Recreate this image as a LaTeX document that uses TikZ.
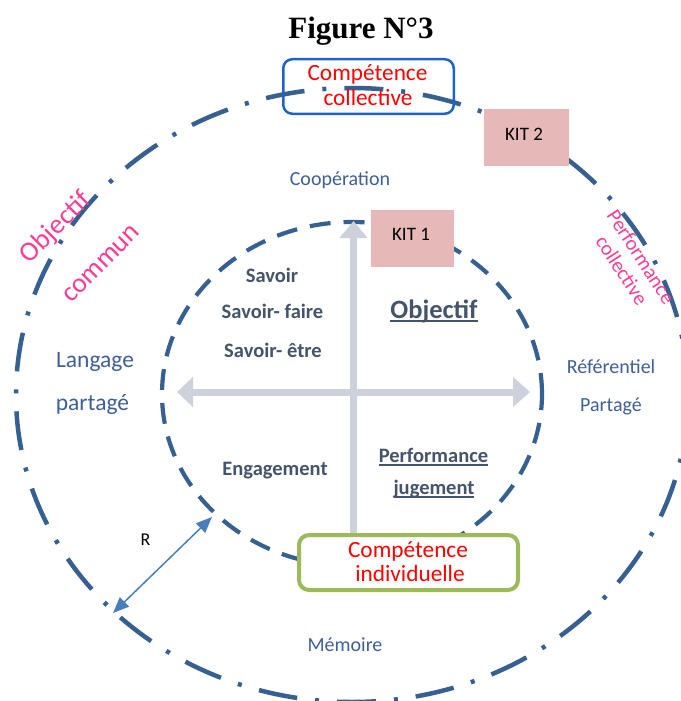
\documentclass[tikz,border=0pt]{standalone}
\usepackage{fontspec}
\setmainfont{Carlito}
\newfontfamily\titlefont{Liberation Serif}
\usetikzlibrary{arrows.meta}
\definecolor{circblue}{RGB}{55,96,146}
\definecolor{txtblue}{RGB}{62,96,150}
\definecolor{darktxt}{RGB}{68,84,106}
\definecolor{pinktxt}{RGB}{255,60,145}
\definecolor{redtxt}{RGB}{255,0,0}
\definecolor{kitfill}{RGB}{230,185,184}
\definecolor{axisgray}{RGB}{205,209,220}
\definecolor{boxgreen}{RGB}{155,187,89}
\definecolor{boxblue}{RGB}{30,100,200}
\definecolor{rblue}{RGB}{74,126,187}
\newcommand\myul[1]{\setbox0\hbox{#1}\rlap{\rule[-4pt]{\wd0}{1.6pt}}\box0}
\tikzset{
  outerring/.style={draw=circblue, line width=4.5pt, line cap=butt, dash pattern=on 39pt off 18pt on 4pt off 18pt},
  innerring/.style={draw=circblue, line width=4.2pt, line cap=butt, dash pattern=on 21pt off 13pt},
  axis/.style={draw=axisgray, line width=7pt},
  kitbox/.style={fill=kitfill, inner sep=0pt, outer sep=0pt},
  kittxt/.style={text=black, font=\fontsize{19}{22}\selectfont, anchor=base},
  bluetxt/.style={text=txtblue, font=\fontsize{20}{24}\selectfont, anchor=base},
  boldtxt/.style={text=darktxt, font=\bfseries\fontsize{20.5}{24}\selectfont, anchor=base},
  redlbl/.style={text=redtxt, font=\fontsize{23.3}{26}\selectfont, anchor=base},
  pinklbl/.style={text=pinktxt, anchor=center},
}
\begin{document}
\begin{tikzpicture}[x=1pt,y=-1pt]
\useasboundingbox (0,0) rectangle (680,701);
% rings
\draw[outerring] (352,395) ellipse [x radius=336pt, y radius=307pt];
\draw[innerring] (352,394) ellipse [x radius=190pt, y radius=172pt];
% axes
\coordinate (hl) at (177,392);
\coordinate (hr) at (530,392);
\coordinate (vt) at (353.5,221);
\coordinate (vb) at (353.5,545);
\draw[axis, {Triangle[width=29pt,length=16pt]}-{Triangle[width=29pt,length=17pt]}] (hl) -- (hr);
\draw[axis, -{Triangle[width=27pt,length=17pt]}] (vb) -- (vt);
% boxes
\node[kitbox, minimum width=85pt, minimum height=57pt] (kit2) at (526.5,137.5) {};
\node[kitbox, minimum width=83pt, minimum height=57pt] (kit1) at (412.5,238.5) {};
\node[draw=boxblue, line width=2.5pt, rounded corners=9pt, inner sep=0pt, minimum width=170.5pt, minimum height=54.5pt] (cc) at (368.5,86.5) {};
\node[draw=boxgreen, fill=white, line width=4pt, rounded corners=10pt, inner sep=0pt, minimum width=219pt, minimum height=55pt] (ci) at (408.5,562.5) {};
% title
\node[anchor=base, font=\titlefont\bfseries\fontsize{31}{36}\selectfont] (title) at (361,38) {Figure N°3};
% box texts
\node[redlbl] (cc1) at (367.5,80) {Compétence};
\node[redlbl] (cc2) at (368,105) {collective};
\node[redlbl] (ci1) at (408,557) {Compétence};
\node[redlbl] (ci2) at (410,581) {individuelle};
\node[kittxt] (k2) at (524,140) {KIT 2};
\node[kittxt] (k1) at (411,240) {KIT 1};
% blue texts
\node[bluetxt] (coop) at (340,185) {Coopération};
\node[bluetxt, font=\fontsize{23.5}{27}\selectfont] (lang1) at (95,367) {Langage};
\node[bluetxt, font=\fontsize{23.5}{27}\selectfont] (lang2) at (92.5,410) {partagé};
\node[bluetxt] (ref1) at (611,373) {Référentiel};
\node[bluetxt] (ref2) at (611,411) {Partagé};
\node[bluetxt] (mem) at (345,651) {Mémoire};
% bold inner texts
\node[boldtxt] (s1) at (272,282) {Savoir};
\node[boldtxt] (s2) at (272.5,318) {Savoir- faire};
\node[boldtxt] (s3) at (273,357) {Savoir- être};
\node[boldtxt, font=\bfseries\fontsize{26.5}{30}\selectfont] (obj) at (434,318) {\myul{Objectif}};
\node[boldtxt] (eng) at (275,475) {Engagement};
\node[boldtxt] (perf) at (433.5,462) {\myul{Performance}};
\node[boldtxt] (jug) at (434,494) {\myul{jugement}};
% rotated pink labels
\node[pinklbl, rotate=45, font=\fontsize{27.5}{30}\selectfont] (oc1) at (56,228) {Objectif};
\node[pinklbl, rotate=45, font=\fontsize{27.5}{30}\selectfont] (oc2) at (101.5,264) {commun};
\node[pinklbl, rotate=-57, font=\fontsize{20.5}{23}\selectfont] (pc1) at (641,257) {Performance};
\node[pinklbl, rotate=-57, font=\fontsize{20.5}{23}\selectfont] (pc2) at (622,270) {collective};
% R dimension
\coordinate (ra) at (113,613);
\coordinate (rb) at (212,517);
\draw[rblue, line width=1.5pt, {Triangle[width=13pt,length=16pt]}-{Triangle[width=13pt,length=16pt]}] (ra) -- (rb);
\node[anchor=base, text=black, font=\fontsize{18}{22}\selectfont] (rlbl) at (145.5,545) {R};
\end{tikzpicture}
\end{document}
